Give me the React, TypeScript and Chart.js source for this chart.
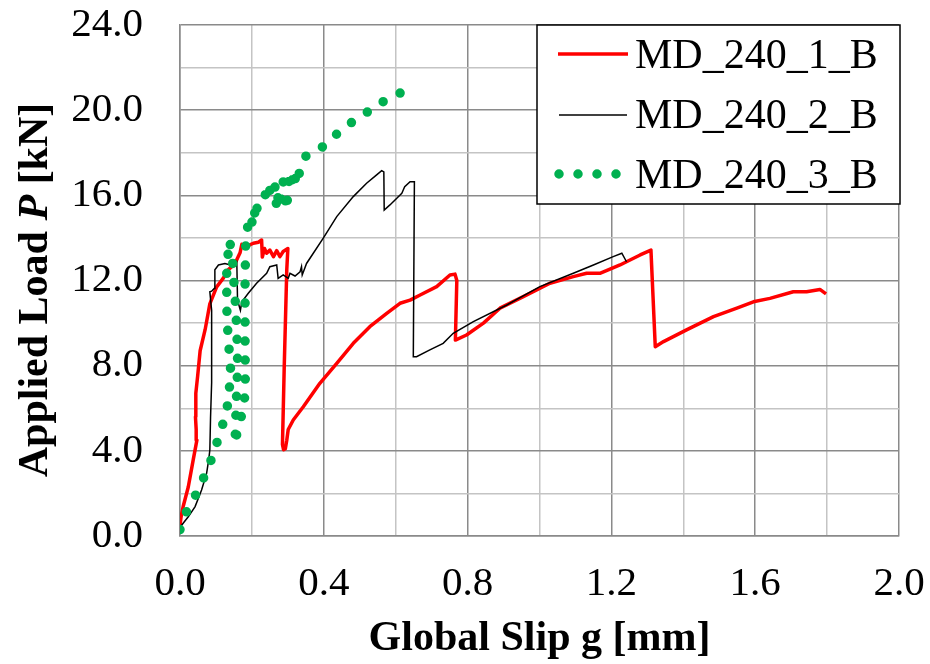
import React, { useEffect, useRef } from "react";
import { Chart, registerables } from "chart.js";

Chart.register(...registerables);

const SERIF = "'Liberation Serif', 'Times New Roman', Times, serif";

// Series names
const seriesNames = ["MD_240_1_B", "MD_240_2_B", "MD_240_3_B"];

// MD_240_1_B: global slip [mm] / applied load [kN]
const slip1 = [
  0.0, 0.003, 0.009, 0.023, 0.037, 0.047, 0.045, 0.043, 0.044, 0.049, 0.056, 0.07, 0.083, 0.102,
  0.12, 0.134, 0.153, 0.167, 0.172, 0.185, 0.204, 0.218, 0.227, 0.229, 0.235, 0.241, 0.25, 0.26,
  0.269, 0.278, 0.287, 0.3, 0.297, 0.29, 0.285, 0.288, 0.293, 0.297, 0.301, 0.315, 0.343, 0.389,
  0.436, 0.482, 0.528, 0.575, 0.612, 0.64, 0.668, 0.714, 0.751, 0.765, 0.77, 0.766, 0.797, 0.844,
  0.89, 0.955, 1.029, 1.094, 1.131, 1.168, 1.224, 1.242, 1.28, 1.31, 1.322, 1.345, 1.409, 1.484,
  1.549, 1.595, 1.641, 1.706, 1.743, 1.78, 1.797,
];
const load1 = [
  0.5, 0.9, 1.4, 2.3, 3.6, 4.5, 5.0, 5.6, 6.7, 7.5, 8.7, 9.7, 10.9, 11.7,
  12.1, 12.5, 12.8, 13.3, 13.7, 13.6, 13.75, 13.8, 13.9, 13.1, 13.5, 13.28, 13.43, 13.12,
  13.4, 13.12, 13.36, 13.5, 12.5, 8.0, 4.3, 4.05, 4.1, 4.5, 5.0, 5.45, 6.07, 7.17,
  8.11, 9.05, 9.83, 10.46, 10.93, 11.08, 11.32, 11.71, 12.26, 12.3, 12.0, 9.2, 9.44, 10.0,
  10.7, 11.24, 11.87, 12.18, 12.34, 12.34, 12.73, 12.88, 13.2, 13.43, 8.89, 9.13, 9.68, 10.3,
  10.7, 11.0, 11.16, 11.47, 11.47, 11.58, 11.37,
];

// MD_240_2_B
const slip2 = [
  0.0, 0.005, 0.023, 0.042, 0.06, 0.074, 0.08, 0.083, 0.085, 0.088, 0.089, 0.087, 0.083, 0.088,
  0.095, 0.097, 0.107, 0.125, 0.135, 0.15, 0.158, 0.16, 0.168, 0.172, 0.19, 0.213, 0.241, 0.25,
  0.269, 0.273, 0.287, 0.301, 0.306, 0.32, 0.334, 0.338, 0.34, 0.352, 0.399, 0.436, 0.482, 0.519,
  0.547, 0.561, 0.567, 0.568, 0.584, 0.603, 0.617, 0.621, 0.625, 0.64, 0.652, 0.649, 0.658, 0.695,
  0.732, 0.76, 0.816, 0.909, 1.001, 1.094, 1.15, 1.205, 1.229, 1.242,
];
const load2 = [
  0.35, 0.52, 0.9, 1.38, 2.16, 2.94, 3.6, 4.04, 5.6, 7.2, 8.7, 10.6, 11.47, 11.5,
  11.63, 12.5, 12.73, 12.8, 12.75, 12.88, 12.9, 11.08, 10.6, 11.0, 11.4, 11.87, 12.34, 12.65,
  12.73, 12.1, 12.26, 12.1, 12.34, 12.21, 12.41, 12.65, 12.26, 12.8, 14.0, 15.0, 15.94, 16.57,
  16.96, 17.16, 17.1, 15.31, 15.55, 15.86, 16.1, 16.25, 16.4, 16.64, 16.64, 8.42, 8.42, 8.74,
  9.05, 9.52, 10.07, 10.85, 11.71, 12.34, 12.73, 13.12, 13.28, 12.88,
];

// MD_240_3_B
const slip3 = [
  0.0, 0.005, 0.016, 0.028, 0.046, 0.065, 0.083, 0.099, 0.111, 0.126, 0.135, 0.139, 0.141, 0.135,
  0.132, 0.13, 0.13, 0.13, 0.134, 0.138, 0.146, 0.149, 0.153, 0.156, 0.158, 0.16, 0.16, 0.156,
  0.153, 0.162, 0.178, 0.181, 0.182, 0.181, 0.181, 0.181, 0.183, 0.19, 0.198, 0.205, 0.212, 0.215,
  0.223, 0.236, 0.244, 0.25, 0.258, 0.265, 0.269, 0.275, 0.281, 0.287, 0.292, 0.297, 0.3, 0.305,
  0.31, 0.318, 0.322, 0.329, 0.333, 0.34, 0.348, 0.385, 0.417, 0.443, 0.476, 0.51, 0.544, 0.579,
  0.617,
];
const load3 = [
  0.3, 0.44, 1.07, 1.46, 2.0, 2.7, 3.4, 4.17, 4.85, 5.6, 6.4, 7.3, 8.1, 9.0,
  9.9, 10.8, 11.6, 12.5, 13.3, 13.9, 12.96, 12.15, 11.24, 10.38, 9.52, 8.66, 7.76, 6.04,
  4.32, 5.17, 6.0, 6.89, 7.72, 8.58, 10.33, 12.06, 13.82, 14.76, 14.45, 15.4, 14.84, 15.6,
  15.78, 16.1, 15.7, 16.25, 15.9, 16.45, 15.31, 16.3, 15.8, 16.64, 15.9, 15.31, 16.2, 16.9,
  16.5, 17.2, 16.6, 16.49, 17.3, 17.5, 17.82, 18.13, 18.55, 19.0, 19.41, 19.77, 20.2, 20.53,
  20.84,
];

// Axis ranges, grid steps and titles
const X_MIN = 0;
const X_MAX = 2.0;
const X_STEP = 0.2;
const Y_MIN = 0;
const Y_MAX = 24;
const Y_STEP = 2;
const X_TITLE = "Global Slip g [mm]";
const Y_TITLE_PARTS = ["Applied Load ", "P", " [kN]"];

const COLORS = ["#ff0000", "#000000", "#00b050"];
const GRID_MAJOR = "#8a8a8a";
const GRID_MINOR = "#c4c4c4";

const toPoints = (xs: number[], ys: number[]) => xs.map((x, i) => ({ x, y: ys[i] }));

// keep the plot area fixed: no extra room for overhanging tick labels
const noScalePadding = (scale: any) => {
  scale.paddingTop = 0;
  scale.paddingBottom = 0;
  scale.paddingLeft = 0;
  scale.paddingRight = 0;
};

const overlayPlugin = {
  id: "overlay",
  afterDraw(chart: any) {
    const ctx: CanvasRenderingContext2D = chart.ctx;
    const area = chart.chartArea;
    ctx.save();
    ctx.fillStyle = "#000";

    // x-axis title
    ctx.font = `bold 42px ${SERIF}`;
    ctx.textAlign = "center";
    ctx.textBaseline = "alphabetic";
    ctx.fillText(X_TITLE, (area.left + area.right) / 2, 650);

    // y-axis title, with the italic P
    const fonts = [`bold 42px ${SERIF}`, `italic bold 42px ${SERIF}`, `bold 42px ${SERIF}`];
    const widths = Y_TITLE_PARTS.map((t, i) => {
      ctx.font = fonts[i];
      return ctx.measureText(t).width;
    });
    const total = widths.reduce((a, b) => a + b, 0);
    ctx.translate(47, 290);
    ctx.rotate(-Math.PI / 2);
    ctx.textAlign = "left";
    let pos = -total / 2;
    Y_TITLE_PARTS.forEach((t, i) => {
      ctx.font = fonts[i];
      ctx.fillText(t, pos, 0);
      pos += widths[i];
    });
    ctx.setTransform(1, 0, 0, 1, 0, 0);
    ctx.restore();

    // legend box
    ctx.save();
    const bx = 537, by = 25, bw = 363, bh = 179;
    ctx.fillStyle = "#fff";
    ctx.fillRect(bx, by, bw, bh);
    ctx.strokeStyle = "#000";
    ctx.lineWidth = 1.5;
    ctx.strokeRect(bx, by, bw, bh);

    const rows = [54, 115, 174];
    const baselines = [68, 128, 188];
    // red sample
    ctx.strokeStyle = COLORS[0];
    ctx.lineWidth = 3.5;
    ctx.lineCap = "butt";
    ctx.beginPath();
    ctx.moveTo(558, rows[0]);
    ctx.lineTo(628, rows[0]);
    ctx.stroke();
    // black sample
    ctx.strokeStyle = COLORS[1];
    ctx.lineWidth = 1.5;
    ctx.beginPath();
    ctx.moveTo(559, rows[1]);
    ctx.lineTo(627, rows[1]);
    ctx.stroke();
    // green dotted sample
    ctx.strokeStyle = COLORS[2];
    ctx.lineWidth = 9.5;
    ctx.lineCap = "round";
    ctx.setLineDash([0, 19]);
    ctx.beginPath();
    ctx.moveTo(559, rows[2]);
    ctx.lineTo(617, rows[2]);
    ctx.stroke();
    ctx.setLineDash([]);

    ctx.fillStyle = "#000";
    ctx.font = `42px ${SERIF}`;
    ctx.textAlign = "left";
    ctx.textBaseline = "alphabetic";
    seriesNames.forEach((name, i) => ctx.fillText(name, 635, baselines[i]));
    ctx.restore();
  },
};

export default function App() {
  const canvasRef = useRef<HTMLCanvasElement | null>(null);

  useEffect(() => {
    if (!canvasRef.current) return;
    const chart = new Chart(canvasRef.current, {
      type: "scatter",
      data: {
        datasets: [
          {
            label: seriesNames[0],
            data: toPoints(slip1, load1),
            showLine: true,
            borderColor: COLORS[0],
            backgroundColor: COLORS[0],
            borderWidth: 3.5,
            pointRadius: 0,
            borderJoinStyle: "round",
            order: 3,
          },
          {
            label: seriesNames[1],
            data: toPoints(slip2, load2),
            showLine: true,
            borderColor: COLORS[1],
            backgroundColor: COLORS[1],
            borderWidth: 1.5,
            pointRadius: 0,
            order: 2,
          },
          {
            label: seriesNames[2],
            data: toPoints(slip3, load3),
            showLine: true,
            borderColor: COLORS[2],
            backgroundColor: COLORS[2],
            borderWidth: 9.5,
            borderDash: [0, 19],
            borderCapStyle: "round",
            pointRadius: 0,
            order: 1,
          },
        ],
      },
      options: {
        animation: false,
        responsive: true,
        maintainAspectRatio: false,
        layout: { padding: { left: 0, right: 31, top: 25, bottom: 0 } },
        plugins: {
          legend: { display: false },
          tooltip: { enabled: false },
        },
        scales: {
          x: {
            type: "linear",
            min: X_MIN,
            max: X_MAX,
            afterFit: (scale: any) => {
              scale.height = 128;
              noScalePadding(scale);
            },
            ticks: {
              stepSize: X_STEP,
              autoSkip: false,
              maxRotation: 0,
              padding: 24,
              color: "#000",
              font: { family: SERIF, size: 41 },
              callback: (v: any, i: number) => (i % 2 === 0 ? Number(v).toFixed(1) : ""),
            },
            grid: {
              drawTicks: false,
              lineWidth: 1.5,
              color: (c: any) => (c.index % 2 === 0 ? GRID_MAJOR : GRID_MINOR),
            },
            border: { display: true, color: GRID_MAJOR, width: 1.5 },
          },
          y: {
            type: "linear",
            min: Y_MIN,
            max: Y_MAX,
            afterFit: (scale: any) => {
              scale.width = 180;
              noScalePadding(scale);
            },
            ticks: {
              stepSize: Y_STEP,
              autoSkip: false,
              padding: 37,
              color: "#000",
              font: { family: SERIF, size: 41 },
              callback: (v: any, i: number) => (i % 2 === 0 ? Number(v).toFixed(1) : ""),
            },
            grid: {
              drawTicks: false,
              lineWidth: 1.5,
              color: (c: any) => (c.index % 2 === 0 ? GRID_MAJOR : GRID_MINOR),
            },
            border: { display: true, color: GRID_MAJOR, width: 1.5 },
          },
        },
      },
      plugins: [overlayPlugin],
    } as any);
    return () => chart.destroy();
  }, []);

  return (
    <div style={{ position: "fixed", left: 0, top: 0, width: 930, height: 664, background: "#fff" }}>
      <canvas ref={canvasRef} />
    </div>
  );
}
